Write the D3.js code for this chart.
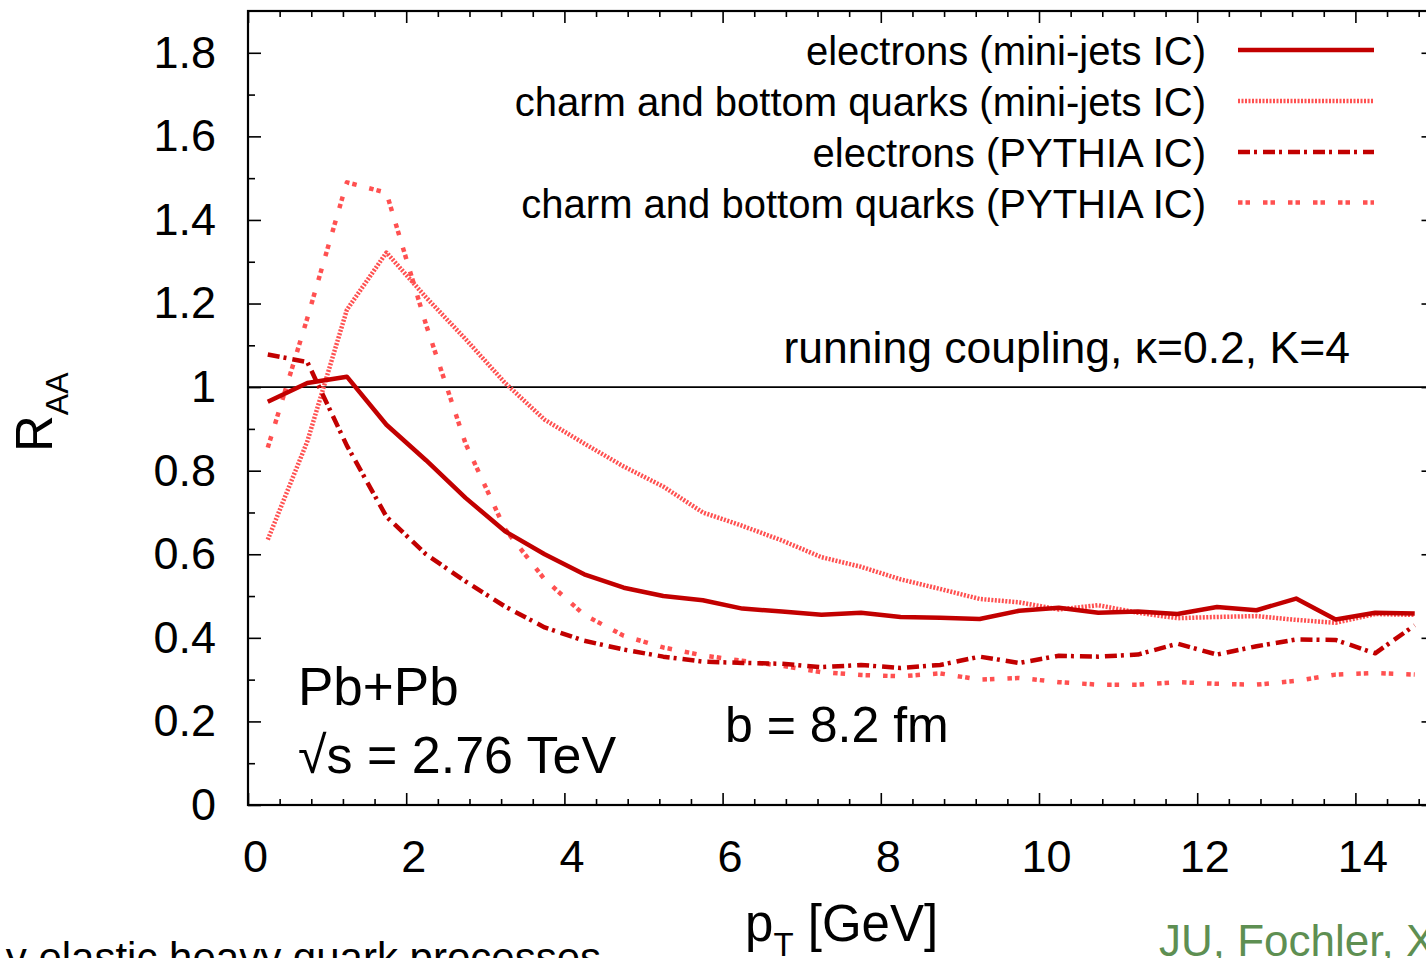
<!DOCTYPE html>
<html>
<head>
<meta charset="utf-8">
<script src="https://cdn.jsdelivr.net/npm/d3@7"></script>
<style>
  html, body { margin: 0; padding: 0; background: #fff; }
  svg { display: block; font-family: "Liberation Sans", Arial, Helvetica, sans-serif; }
</style>
</head>
<body>
<svg id="chart" width="1426" height="958"></svg>
<script>
// ---- data ----
const pT = [0.25, 0.75, 1.25, 1.75, 2.25, 2.75, 3.25, 3.75, 4.25, 4.75,
            5.25, 5.75, 6.25, 6.75, 7.25, 7.75, 8.25, 8.75, 9.25, 9.75,
            10.25, 10.75, 11.25, 11.75, 12.25, 12.75, 13.25, 13.75, 14.25, 14.75];

const electronsMiniJets = [0.965, 1.01, 1.025, 0.91, 0.825, 0.735, 0.655, 0.60, 0.552, 0.52,
                           0.50, 0.49, 0.47, 0.463, 0.455, 0.46, 0.45, 0.448, 0.445, 0.465,
                           0.472, 0.46, 0.463, 0.457, 0.474, 0.466, 0.494, 0.444, 0.46, 0.458];

const quarksMiniJets = [0.635, 0.87, 1.185, 1.322, 1.215, 1.115, 1.01, 0.922, 0.865, 0.81,
                        0.762, 0.70, 0.668, 0.633, 0.593, 0.57, 0.54, 0.517, 0.493, 0.485,
                        0.468, 0.478, 0.46, 0.447, 0.45, 0.452, 0.443, 0.436, 0.457, 0.455];

const electronsPythia = [1.078, 1.06, 0.86, 0.69, 0.60, 0.535, 0.475, 0.425, 0.393, 0.372,
                         0.355, 0.343, 0.34, 0.338, 0.33, 0.335, 0.328, 0.335, 0.355, 0.34,
                         0.357, 0.355, 0.36, 0.386, 0.36, 0.38, 0.396, 0.395, 0.363, 0.43];

const quarksPythia = [0.855, 1.165, 1.49, 1.465, 1.15, 0.865, 0.66, 0.54, 0.455, 0.405,
                      0.377, 0.358, 0.345, 0.333, 0.318, 0.311, 0.308, 0.315, 0.30, 0.304,
                      0.294, 0.288, 0.288, 0.294, 0.29, 0.288, 0.297, 0.312, 0.316, 0.312];

const seriesLabels = ["electrons (mini-jets IC)", "charm and bottom quarks (mini-jets IC)",
                      "electrons (PYTHIA IC)", "charm and bottom quarks (PYTHIA IC)"];

const xMajorTicks = [0, 2, 4, 6, 8, 10, 12, 14];
const xMinorTicks = [0.4, 0.8, 1.2, 1.6, 2.4, 2.8, 3.2, 3.6, 4.4, 4.8, 5.2, 5.6, 6.4, 6.8, 7.2, 7.6,
                     8.4, 8.8, 9.2, 9.6, 10.4, 10.8, 11.2, 11.6, 12.4, 12.8, 13.2, 13.6, 14.4, 14.8];
const yMajorTicks = [0, 0.2, 0.4, 0.6, 0.8, 1, 1.2, 1.4, 1.6, 1.8];
const yMinorTicks = [0.1, 0.3, 0.5, 0.7, 0.9, 1.1, 1.3, 1.5, 1.7];

// ---- layout ----
const svg = d3.select("#chart");
const pLeft = 248, pRight = 1434.5, pTop = 11, pBottom = 805;
const x = d3.scaleLinear().domain([0, 15]).range([pLeft, pRight]);
const y = d3.scaleLinear().domain([0, 1.9]).range([pBottom, pTop]);

const darkRed = "#c20000";
const lightRed = "#ff5050";

const styles = [
  { color: darkRed, width: 4.5, dash: null, data: electronsMiniJets },
  { color: lightRed, width: 4.5, dash: "2,1.5", data: quarksMiniJets },
  { color: darkRed, width: 4.5, dash: "12,4,3,6", data: electronsPythia },
  { color: lightRed, width: 4.5, dash: "4.5,3,4.5,13", data: quarksPythia }
];

// clip
svg.append("defs").append("clipPath").attr("id", "plotclip")
  .append("rect").attr("x", pLeft).attr("y", pTop).attr("width", pRight - pLeft).attr("height", pBottom - pTop);

// axes (inward ticks)
function styleAxis(g) {
  g.select(".domain").remove();
  g.selectAll("line").attr("stroke", "#000").attr("stroke-width", 1.6);
  g.selectAll("text").attr("fill", "#000").attr("font-size", 45)
    .attr("font-family", "'Liberation Sans', Arial, Helvetica, sans-serif");
}

svg.append("g").attr("transform", `translate(0,${pBottom})`)
  .call(d3.axisBottom(x).tickValues(xMajorTicks).tickFormat(d3.format("d")).tickSize(-12).tickPadding(35).tickSizeOuter(0))
  .call(styleAxis)
  .call(g => g.selectAll("text").attr("dx", 7));
svg.append("g").attr("transform", `translate(0,${pBottom})`)
  .call(d3.axisBottom(x).tickValues(xMinorTicks).tickFormat("").tickSize(-6).tickSizeOuter(0))
  .call(styleAxis);
svg.append("g").attr("transform", `translate(0,${pTop})`)
  .call(d3.axisTop(x).tickValues(xMajorTicks).tickFormat("").tickSize(-12).tickSizeOuter(0))
  .call(styleAxis);
svg.append("g").attr("transform", `translate(0,${pTop})`)
  .call(d3.axisTop(x).tickValues(xMinorTicks).tickFormat("").tickSize(-6).tickSizeOuter(0))
  .call(styleAxis);

svg.append("g").attr("transform", `translate(${pLeft},0)`)
  .call(d3.axisLeft(y).tickValues(yMajorTicks).tickFormat(d => d === 0 || d === 1 ? d3.format("d")(d) : d3.format(".1f")(d))
        .tickSize(-13).tickPadding(32).tickSizeOuter(0))
  .call(styleAxis);
svg.append("g").attr("transform", `translate(${pLeft},0)`)
  .call(d3.axisLeft(y).tickValues(yMinorTicks).tickFormat("").tickSize(-7).tickSizeOuter(0))
  .call(styleAxis);
svg.append("g").attr("transform", `translate(${pRight},0)`)
  .call(d3.axisRight(y).tickValues(yMajorTicks).tickFormat("").tickSize(-13).tickSizeOuter(0))
  .call(styleAxis);
svg.append("g").attr("transform", `translate(${pRight},0)`)
  .call(d3.axisRight(y).tickValues(yMinorTicks).tickFormat("").tickSize(-7).tickSizeOuter(0))
  .call(styleAxis);

// frame
svg.append("rect").attr("x", pLeft).attr("y", pTop).attr("width", pRight - pLeft).attr("height", pBottom - pTop)
  .attr("fill", "none").attr("stroke", "#000").attr("stroke-width", 2.2);

// reference line at 1
svg.append("line").attr("x1", x(0)).attr("x2", x(15)).attr("y1", y(1)).attr("y2", y(1))
  .attr("stroke", "#000").attr("stroke-width", 1.6);

// curves
const line = d3.line().x((d, i) => x(pT[i])).y(d => y(d));
const plot = svg.append("g").attr("clip-path", "url(#plotclip)");
[1, 3, 2, 0].forEach(k => {
  const s = styles[k];
  plot.append("path").datum(s.data)
    .attr("d", line)
    .attr("fill", "none")
    .attr("stroke", s.color)
    .attr("stroke-width", s.width)
    .attr("stroke-linejoin", "round")
    .attr("stroke-dasharray", s.dash);
});

// legend
const legendRows = [50, 101, 152, 202.5];
seriesLabels.forEach((lab, i) => {
  const s = styles[i];
  svg.append("text").attr("x", 1206).attr("y", legendRows[i] + 15)
    .attr("text-anchor", "end").attr("font-size", 40).attr("fill", "#000").text(lab);
  svg.append("line").attr("x1", 1238).attr("x2", 1374).attr("y1", legendRows[i]).attr("y2", legendRows[i])
    .attr("stroke", s.color).attr("stroke-width", s.width).attr("stroke-dasharray", s.dash);
});

// annotations
svg.append("text").attr("x", 1350).attr("y", 363).attr("text-anchor", "end")
  .attr("font-size", 44.5).text("running coupling, κ=0.2, K=4");
svg.append("text").attr("x", 298).attr("y", 705).attr("font-size", 53).text("Pb+Pb");
svg.append("text").attr("x", 298).attr("y", 773).attr("font-size", 52).text("√s = 2.76 TeV");
svg.append("text").attr("x", 725).attr("y", 742).attr("font-size", 50).text("b = 8.2 fm");

// axis titles
const yt = svg.append("text").attr("transform", "translate(52,452) rotate(-90)").attr("font-size", 51);
yt.append("tspan").text("R");
yt.append("tspan").attr("font-size", 32).attr("dy", 16).text("AA");

const xt = svg.append("text").attr("x", 745).attr("y", 941).attr("font-size", 51);
xt.append("tspan").text("p");
xt.append("tspan").attr("font-size", 33).attr("dy", 15).text("T");
xt.append("tspan").attr("dy", -15).text(" [GeV]");

// slide fragments around the chart (cut by the edge in the reference too)
svg.append("text").attr("x", 601).attr("y", 972).attr("text-anchor", "end")
  .attr("font-size", 42).attr("fill", "#000").text("y elastic heavy quark processes");
svg.append("text").attr("x", 1159).attr("y", 956).attr("font-size", 44)
  .attr("fill", "#5e8f52").text("JU, Fochler, X");
</script>
</body>
</html>
